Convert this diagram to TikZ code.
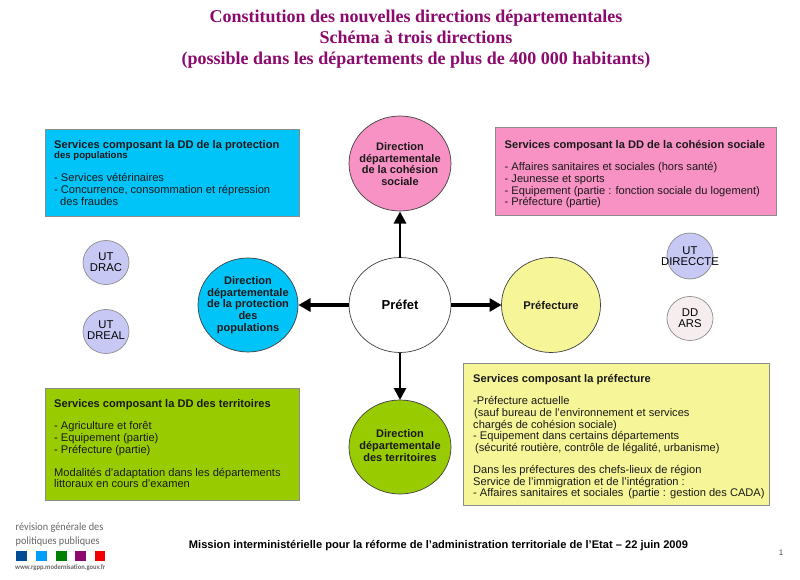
\documentclass[tikz,border=0pt]{standalone}
\usepackage{fontspec}
\setmainfont{Liberation Sans}
\newfontfamily\titlefont{Liberation Serif}
\newfontfamily\logofont[FakeStretch=0.93]{Carlito}
\usetikzlibrary{arrows.meta}
\definecolor{cblue}{HTML}{00C4F8}
\definecolor{cpink}{HTML}{F892C4}
\definecolor{cgreen}{HTML}{99CC00}
\definecolor{cyellow}{HTML}{F6F698}
\definecolor{clav}{HTML}{C8C8F4}
\definecolor{cpale}{HTML}{F6EEEE}
\definecolor{ctitle}{HTML}{8C0A6E}
\tikzset{
  x=1pt,y=-1pt,
  box/.style={draw=black!45,line width=.8pt,anchor=north west,inner sep=0pt},
  boxtext/.style={anchor=north west,inner sep=0pt,align=left,font=\fontsize{11.1}{11.6}\selectfont,text=black!90},
  ctext/.style={align=center,font=\fontsize{11}{11.6}\selectfont\bfseries,text=black!90,inner sep=0pt},
  smallc/.style={draw=black!45,line width=.7pt},
  stext/.style={align=center,font=\fontsize{11.3}{11.2}\selectfont,inner sep=0pt},
  connv/.style={line width=2.8pt,-{Triangle[length=12pt,width=12pt]}},
  connh/.style={line width=4.2pt,-{Triangle[length=12pt,width=13pt]}},
  swatch/.style={minimum width=10.5pt,minimum height=10pt,inner sep=0pt}
}
\begin{document}
\begin{tikzpicture}
\useasboundingbox (0,0) rectangle (800,580);
\fill[white] (0,0) rectangle (800,580);
% title
\node[align=center,inner sep=0pt,text=ctitle,font=\titlefont\fontsize{18}{21.2}\selectfont\bfseries] (title) at (416,39)
 {Constitution des nouvelles directions départementales\\Schéma à trois directions\\(possible dans les départements de plus de 400 000 habitants)};
% boxes
\node[box,fill=cblue,minimum width=254pt,minimum height=87pt] (bb) at (45,129) {};
\node[box,fill=cpink,minimum width=281pt,minimum height=88pt] (bp) at (495,127) {};
\node[box,fill=cgreen,minimum width=254pt,minimum height=112pt] (bg) at (45,388) {};
\node[box,fill=cyellow,minimum width=306pt,minimum height=142pt] (by) at (463,363) {};
\node[boxtext] (tb) at (54,140) {\textbf{Services composant la DD de la protection}\\[-1pt]{\fontsize{9.6}{11}\selectfont\textbf{des populations}}\\[11.5pt]- Services vétérinaires\\- Concurrence, consommation et répression\\\hspace*{6pt}des fraudes};
\node[boxtext] (tp) at (504.5,140.5) {\textbf{Services composant la DD de la cohésion sociale}\\[10.5pt]- Affaires sanitaires et sociales (hors santé)\\- Jeunesse et sports\\- Equipement (partie : fonction sociale du logement)\\- Préfecture (partie)};
\node[boxtext] (tg) at (54,399.5) {\textbf{Services composant la DD des territoires}\\[10.5pt]- Agriculture et forêt\\- Equipement (partie)\\- Préfecture (partie)\\[11.5pt]Modalités d’adaptation dans les départements\\littoraux en cours d’examen};
\node[boxtext] (ty) at (473,374.5) {\textbf{Services composant la préfecture}\\[10.5pt]-Préfecture actuelle\\\hspace*{1pt}(sauf bureau de l’environnement et services\\chargés de cohésion sociale)\\- Equipement dans certains départements\\\hspace*{2pt}(sécurité routière, contrôle de légalité, urbanisme)\\[10.5pt]Dans les préfectures des chefs-lieux de région\\Service de l’immigration et de l’intégration :\\- Affaires sanitaires et sociales\, (partie : gestion des CADA)};
% big circles
\path[draw=black!75,line width=.7pt,fill=white] (400,305) ellipse [x radius=51,y radius=47.5];
\path[draw=black!75,line width=.7pt,fill=cpink] (400,163.5) ellipse [x radius=51,y radius=47.5];
\path[draw=black!75,line width=.7pt,fill=cyellow] (551,305) ellipse [x radius=49.5,y radius=47.5];
\path[draw=black!75,line width=.7pt,fill=cblue] (248,305) ellipse [x radius=50,y radius=47];
\path[draw=black!75,line width=.7pt,fill=cgreen] (400,447) ellipse [x radius=51,y radius=47];
\coordinate (cP) at (400,305);
\node[inner sep=0pt,font=\fontsize{13}{14}\selectfont\bfseries] (pref) at (cP) {Préfet};
\node[ctext] (dcs) at (400,164) {Direction\\départementale\\de la cohésion\\sociale};
\node[ctext] (dpp) at (248,305) {Direction\\départementale\\de la protection\\des\\populations};
\node[ctext] (dt) at (400,445.5) {Direction\\départementale\\des territoires};
\node[ctext,font=\fontsize{11.2}{12}\selectfont\bfseries] (pfc) at (551,305) {Préfecture};
% arrows
\coordinate (p1) at (400,257.5); \coordinate (a1) at (400,211.5);
\coordinate (p2) at (349,305); \coordinate (a2) at (298.5,305);
\coordinate (p3) at (451,305); \coordinate (a3) at (501.5,305);
\coordinate (p4) at (400,352.5); \coordinate (a4) at (400,400);
\draw[connv] (p1) -- (a1);
\draw[connh] (p2) -- (a2);
\draw[connh] (p3) -- (a3);
\draw[connv] (p4) -- (a4);
% small circles
\path[smallc,fill=clav] (106,262.5) ellipse [x radius=23,y radius=22];
\path[smallc,fill=clav] (106,331.5) ellipse [x radius=23,y radius=22];
\path[smallc,fill=clav] (690,256) ellipse [x radius=23,y radius=23];
\path[smallc,fill=cpale] (690,318.5) ellipse [x radius=23,y radius=22];
\node[stext] (s1) at (106,262.5) {UT\\DRAC};
\node[stext] (s2) at (106,330.5) {UT\\DREAL};
\node[stext] (s3) at (690,256.5) {UT\\DIRECCTE};
\node[stext] (s4) at (690,318) {DD\\ARS};
% footer
\node[inner sep=0pt,font=\fontsize{11.1}{12}\selectfont\bfseries] (foot) at (438.5,545.5) {Mission interministérielle pour la réforme de l’administration territoriale de l’Etat – 22 juin 2009};
\node[inner sep=0pt,font=\fontsize{8}{9}\selectfont,text=black!70] (num) at (781,553) {1};
% logo
\node[anchor=west,inner sep=0pt,align=left,text=black!60,font=\logofont\fontsize{11}{13.3}\selectfont] (logo) at (15.5,534.5) {révision générale des\\politiques publiques};
\node[swatch,fill=blue!40!black!70!cyan] (q1) at (21.5,556) {};
\node[swatch,fill=cblue!80!blue] (q2) at (41.5,556) {};
\node[swatch,fill=green!50!black] (q3) at (61.5,556) {};
\node[swatch,fill=ctitle] (q4) at (80.5,556) {};
\node[swatch,fill=red!95!black] (q5) at (100,556) {};
\node[anchor=west,inner sep=0pt,text=black!60,font=\logofont\fontsize{7}{8}\selectfont\bfseries] (url) at (15,568) {www.rgpp.modernisation.gouv.fr};
\end{tikzpicture}
\end{document}
